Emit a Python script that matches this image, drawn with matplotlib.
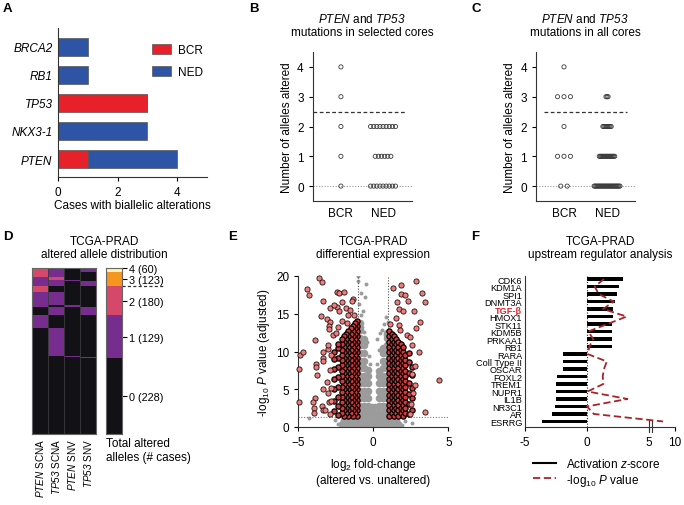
import numpy as np
import matplotlib
matplotlib.use("Agg")
import matplotlib.pyplot as plt
from matplotlib.colors import ListedColormap
from matplotlib.patches import Patch
from matplotlib.lines import Line2D
import matplotlib.transforms as mtrans

plt.rcParams["font.family"] = ["Liberation Sans", "DejaVu Sans"]
plt.rcParams["font.size"] = 8.5
plt.rcParams["mathtext.fontset"] = "custom"
plt.rcParams["mathtext.rm"] = "Liberation Sans"
plt.rcParams["mathtext.it"] = "Liberation Sans:italic"
plt.rcParams["mathtext.sf"] = "Liberation Sans:italic"   # gene names: italic digits too
plt.rcParams["mathtext.bf"] = "Liberation Sans:bold"
plt.rcParams["axes.linewidth"] = 0.8
plt.rcParams["axes.edgecolor"] = "#333333"
plt.rcParams["xtick.major.width"] = 0.8
plt.rcParams["ytick.major.width"] = 0.8
plt.rcParams["xtick.major.size"] = 3
plt.rcParams["ytick.major.size"] = 3

W, H = 684, 506

# ---------------- data ----------------
# A: biallelic alterations (bottom -> top)
A_GENES = ["PTEN", "NKX3-1", "TP53", "RB1", "BRCA2"]
A_BCR = [1, 0, 3, 0, 0]
A_NED = [3, 3, 0, 1, 1]

# B / C: number of alleles altered, (value, count) per group
B_BCR_VALS, B_BCR_N = [0, 1, 2, 3, 4], [1, 1, 1, 1, 1]
B_NED_VALS, B_NED_N = [0, 1, 2], [9, 6, 9]
C_BCR_VALS, C_BCR_N = [0, 1, 2, 3, 4], [2, 3, 1, 3, 1]
C_NED_VALS, C_NED_N = [0, 1, 2, 3], [26, 16, 9, 3]

# D: TCGA-PRAD altered alleles, row blocks (n rows, [PTEN SCNA, TP53 SCNA, PTEN SNV, TP53 SNV])
D_BLOCK_N = [13, 15, 7, 5, 15, 18, 37, 7, 26, 37, 85, 3, 4, 228]
D_BLOCK_VALS = [[2, 1, 0, 1], [2, 1, 0, 0], [1, 2, 0, 0], [1, 1, 1, 0], [1, 1, 0, 1],
                [2, 0, 0, 0], [1, 1, 0, 0], [1, 0, 1, 0], [0, 1, 0, 1],
                [1, 0, 0, 0], [0, 1, 0, 0], [0, 0, 1, 0], [0, 0, 0, 1], [0, 0, 0, 0]]
D_COLS = [r"$\mathsf{PTEN}$ SCNA", r"$\mathsf{TP53}$ SCNA", r"$\mathsf{PTEN}$ SNV", r"$\mathsf{TP53}$ SNV"]
D_TOTAL_LABELS = ["4 (60)", "3 (123)", "2 (180)", "1 (129)", "0 (228)"]

# E: volcano, gray (non-significant) cloud
E_GRAY_ARM_X = [-0.9, -0.62, -0.35, -0.12, 0.12, 0.35, 0.62, 0.9]
E_GRAY_ARM_Y = [
    [1.8, 2.8, 3.8, 4.8, 5.8, 6.8, 7.8, 8.8, 9.8, 10.8, 11.8, 12.8, 13.8],
    [1.8, 2.8, 3.8, 4.8, 5.8, 6.8, 7.8, 8.8, 9.8, 10.8, 11.6],
    [1.8, 2.8, 3.8, 4.8, 5.8, 6.8, 7.6],
    [1.8, 2.6],
    [1.8, 2.6],
    [1.8, 2.8, 3.8, 4.8, 5.8, 6.8, 7.4],
    [1.8, 2.8, 3.8, 4.8, 5.8, 6.8, 7.8, 8.8, 9.8, 10.5],
    [1.8, 2.8, 3.8, 4.8, 5.8, 6.8, 7.8, 8.8, 9.8, 10.8, 11.8, 12.5],
]
E_GRAY_BASE_X = [-2.1, -1.8, -1.45, -1.1, -0.75, -0.4, -0.05, 0.3, 0.65, 1.0, 1.35, 1.65,
                 -1.95, -1.6, -1.25, -0.9, -0.55, -0.2, 0.15, 0.5, 0.85, 1.2, 1.5]
E_GRAY_BASE_Y = [0.35, 0.3, 0.3, 0.3, 0.3, 0.3, 0.3, 0.3, 0.3, 0.3, 0.3, 0.35,
                 0.95, 0.95, 1.0, 1.0, 1.0, 1.0, 1.0, 1.0, 1.0, 0.95, 0.95]
E_GRAY_SPARSE = [(-1.02, 20.0), (-1.0, 19.3), (-0.5, 19.0), (-0.53, 17.2), (-0.95, 16.3),
                 (-0.67, 15.4), (-0.85, 14.8), (0.85, 14.6), (0.7, 13.6), (0.45, 12.4),
                 (0.25, 11.6), (0.55, 12.9), (-0.3, 9.4), (-0.22, 8.3), (0.22, 8.4),
                 (-2.35, 0.45), (-2.55, 0.9), (-4.3, 1.25), (2.55, 0.5), (1.9, 0.25),
                 (2.1, 0.8), (-0.75, 13.2), (0.95, 13.9), (-0.45, 11.2), (-0.6, 12.6),
                 (0.38, 10.2), (0.75, 12.2), (-0.85, 17.8)]
# E: significant genes (|log2FC| > 1), dense bands by column
E_RED_COL_X = [-1.07, -1.22, -1.37, -1.52, -1.67, -1.82, -1.97, -2.12, -2.35, -2.6,
               1.07, 1.22, 1.37, 1.52, 1.67, 1.82, 1.97, 2.12, 2.35, 2.6]
E_RED_COL_Y = [
    [1.5, 2.2, 2.9, 3.6, 4.3, 5.0, 5.7, 6.4, 7.1, 7.8, 8.5, 9.2, 9.9, 10.6, 11.3, 12.0, 12.7, 13.4, 14.1],
    [1.85, 2.55, 3.25, 3.95, 4.65, 5.35, 6.05, 6.75, 7.45, 8.15, 8.85, 9.55, 10.25, 10.95, 11.65, 12.35, 13.05, 13.75],
    [1.5, 2.2, 2.9, 3.6, 4.3, 5.0, 5.7, 6.4, 7.1, 7.8, 8.5, 9.2, 9.9, 10.6, 11.3, 12.0, 12.7, 13.4],
    [1.85, 2.55, 3.25, 3.95, 4.65, 5.35, 6.05, 6.75, 7.45, 8.15, 8.85, 9.55, 10.25, 10.95, 11.65, 12.35, 13.05],
    [1.5, 2.2, 2.9, 3.6, 4.3, 5.0, 5.7, 6.4, 7.1, 7.8, 8.5, 9.2, 9.9, 10.6, 11.3, 12.0, 12.7],
    [1.85, 2.55, 3.25, 3.95, 4.65, 5.35, 6.05, 6.75, 7.45, 8.15, 8.85, 9.55, 10.25, 10.95, 11.65, 12.35],
    [1.5, 2.2, 2.9, 3.6, 4.3, 5.0, 5.7, 6.4, 7.1, 7.8, 8.5, 9.2, 9.9, 10.6, 11.3, 12.0],
    [1.85, 2.55, 3.25, 3.95, 4.65, 5.35, 6.05, 6.75, 7.45, 8.15, 8.85, 9.55, 10.25, 10.95, 11.65],
    [1.6, 2.8, 4.0, 5.3, 6.6, 7.9, 9.1, 10.4, 11.0],
    [2.1, 3.5, 5.0, 6.3, 7.7, 9.0, 10.0],
    [1.5, 2.2, 2.9, 3.6, 4.3, 5.0, 5.7, 6.4, 7.1, 7.8, 8.5, 9.2, 9.9, 10.6, 11.3, 12.0, 12.7],
    [1.85, 2.55, 3.25, 3.95, 4.65, 5.35, 6.05, 6.75, 7.45, 8.15, 8.85, 9.55, 10.25, 10.95, 11.65, 12.35],
    [1.5, 2.2, 2.9, 3.6, 4.3, 5.0, 5.7, 6.4, 7.1, 7.8, 8.5, 9.2, 9.9, 10.6, 11.3, 12.0],
    [1.85, 2.55, 3.25, 3.95, 4.65, 5.35, 6.05, 6.75, 7.45, 8.15, 8.85, 9.55, 10.25, 10.95, 11.65],
    [1.5, 2.2, 2.9, 3.6, 4.3, 5.0, 5.7, 6.4, 7.1, 7.8, 8.5, 9.2, 9.9, 10.6, 11.3],
    [1.85, 2.55, 3.25, 3.95, 4.65, 5.35, 6.05, 6.75, 7.45, 8.15, 8.85, 9.55, 10.25, 10.95],
    [1.5, 2.2, 2.9, 3.6, 4.3, 5.0, 5.7, 6.4, 7.1, 7.8, 8.5, 9.2, 9.9, 10.6],
    [1.85, 2.55, 3.25, 3.95, 4.65, 5.35, 6.05, 6.75, 7.45, 8.15, 8.85, 9.55],
    [1.7, 3.0, 4.4, 5.8, 7.2, 8.6, 9.8],
    [2.3, 3.8, 5.2, 6.9, 8.0],
]
E_RED_SPARSE = [(-3.6, 19.7), (-3.4, 19.2), (-4.4, 18.3), (-4.26, 17.5), (-3.38, 16.7),
                (-2.44, 17.9), (-2.29, 17.7), (-1.93, 17.9), (-1.33, 16.9), (-1.44, 16.7),
                (-2.89, 15.7), (-3.51, 14.7), (-3.07, 14.3), (-3.89, 11.5), (-4.89, 9.5),
                (-4.71, 10.0), (-4.98, 7.7), (-4.98, 3.35), (-3.33, 9.9), (-3.38, 9.2),
                (-3.33, 8.8), (-3.82, 8.3), (-3.82, 7.9), (-3.73, 6.9), (-3.89, 3.9),
                (-4.04, 3.35), (-3.95, 2.5), (-3.95, 1.9), (-3.44, 2.8), (-3.33, 2.2),
                (-2.93, 3.3), (-2.4, 15.9), (-2.29, 15.3), (-1.71, 14.9), (-2.89, 13.9),
                (-2.96, 13.4), (-2.93, 13.0), (-3.0, 10.3), (-3.0, 10.8), (-2.6, 16.2),
                (-2.1, 16.5), (-1.85, 15.8), (-1.55, 15.5), (-1.3, 14.8), (-2.7, 12.2),
                (-2.8, 9.5), (-2.9, 7.5), (-3.1, 6.0), (-2.8, 5.2), (-3.0, 4.5),
                (-2.85, 3.5), (-3.2, 2.3), (-2.9, 1.7), (-3.35, 5.0), (-2.5, 12.5),
                (-2.35, 13.2), (-2.1, 14.0), (-1.75, 13.8),
                (1.29, 18.4), (1.85, 18.8), (2.85, 19.3), (3.22, 17.8), (3.45, 16.5),
                (1.85, 17.6), (2.11, 17.5), (2.33, 16.7), (1.56, 16.6), (1.73, 15.6),
                (2.0, 15.3), (2.73, 15.4), (3.11, 13.9), (2.85, 13.1), (1.11, 13.6),
                (1.73, 13.5), (1.78, 12.9), (2.27, 12.2), (2.44, 11.9), (3.07, 9.9),
                (4.4, 6.2), (3.45, 2.0), (2.78, 8.1), (2.67, 4.5), (2.6, 10.8),
                (2.55, 7.0), (2.8, 5.6), (2.5, 3.0), (2.45, 1.7), (1.5, 14.4)]

# F: upstream regulators
F_REG = ["CDK6", "KDM1A", "SPI1", "DNMT3A", "TGF-β", "HMOX1", "STK11", "KDM5B", "PRKAA1", "RB1",
         "RARA", "Coll Type II", "OSCAR", "FOXL2", "TREM1", "NUPR1", "IL1B", "NR3C1", "AR", "ESRRG"]
F_Z = [2.93, 2.61, 2.45, 2.22, 2.12, 2.12, 2.05, 2.0, 2.0, 2.0,
       -1.96, -1.96, -1.96, -2.45, -2.5, -2.53, -2.53, -2.58, -2.8, -3.6]
F_P = [1.37, 0.62, 0.95, 2.15, 1.3, 3.2, 1.65, 0.1, 0.5, 0.2,
       0.05, 1.6, 1.37, 1.27, 1.32, 0.05, 3.26, 0.0, 0.55, 7.7]

RED, BLUE = "#E8202A", "#2E55A5"
HEAT_COLORS = ["#121216", "#772D8D", "#D6486A", "#F6961E", "#FAF3B6"]
TITLE_BC = r"$\mathsf{PTEN}$ and $\mathsf{TP53}$"


def box(l, t, r, b):
    return [l / W, 1 - b / H, (r - l) / W, (b - t) / H]


def swarm(ax, x0, vals, counts, spacing, **kw):
    for v, n in zip(vals, counts):
        xs = x0 + (np.arange(n) - (n - 1) / 2) * spacing
        ax.scatter(xs, np.full(n, v), **kw)


fig = plt.figure(figsize=(W / 100, H / 100), dpi=100)

for letter, (px, py) in zip("ABCDEF", [(3, 3), (249, 3), (471, 3), (3, 231), (228, 231), (471, 231)]):
    fig.text(px / W, 1 - py / H, letter, fontsize=9.5, fontweight="bold", va="top", ha="left")

# ---------------- A ----------------
ax = fig.add_axes(box(58, 29.3, 207, 178))
y = np.arange(len(A_GENES))
ax.barh(y, A_BCR, height=0.62, color=RED, edgecolor="#555555", linewidth=0.5)
ax.barh(y, A_NED, left=A_BCR, height=0.62, color=BLUE, edgecolor="#555555", linewidth=0.5)
ax.set_yticks(y)
ax.set_yticklabels(A_GENES, fontstyle="italic")
ax.tick_params(axis="y", length=0, pad=4)
ax.set_xlim(0, 5)
ax.set_ylim(-0.64, 4.66)
ax.set_xticks([0, 2, 4])
ax.set_xlabel("Cases with biallelic alterations", labelpad=1)
for s in ["top", "right"]:
    ax.spines[s].set_visible(False)
ax.legend([Patch(facecolor=RED, edgecolor="#555555", lw=0.5), Patch(facecolor=BLUE, edgecolor="#555555", lw=0.5)],
          ["BCR", "NED"], loc="upper left", bbox_to_anchor=(0.56, 0.965), frameon=False,
          handlelength=1.6, handleheight=0.9, labelspacing=0.85, handletextpad=0.6)

# ---------------- B / C ----------------
def dot_panel(rect, bcr, ned, sp_bcr, sp_ned, xlim, dash):
    ax = fig.add_axes(rect)
    kw = dict(s=9, facecolors="none", edgecolors="#3a3a3a", linewidths=0.6, zorder=3)
    swarm(ax, 0, bcr[0], bcr[1], sp_bcr, **kw)
    swarm(ax, 1, ned[0], ned[1], sp_ned, **kw)
    ax.axhline(0, color="#9a9a9a", lw=0.8, ls=(0, (1, 1.5)), zorder=1)
    ax.plot(dash, [2.5, 2.5], color="#333333", lw=0.9, ls=(0, (3, 2)), zorder=2)
    ax.set_xlim(*xlim)
    ax.set_ylim(-0.5, 4.5)
    ax.set_yticks([0, 1, 2, 3, 4])
    ax.set_xticks([0, 1])
    ax.set_xticklabels(["BCR", "NED"])
    ax.tick_params(axis="x", length=0, pad=4)
    ax.set_ylabel("Number of alleles altered", labelpad=3)
    for s in ["top", "right"]:
        ax.spines[s].set_visible(False)
    return ax

dot_panel(box(312.7, 53, 411.7, 202), (B_BCR_VALS, B_BCR_N), (B_NED_VALS, B_NED_N),
          0.074, 0.074, (-0.67, 1.68), [-0.67, 1.52])
fig.text(362 / W, 1 - 13 / H, TITLE_BC + "\n" + "mutations in selected cores",
         ha="center", va="top", linespacing=1.15)
dot_panel(box(536, 53, 635, 202), (C_BCR_VALS, C_BCR_N), (C_NED_VALS, C_NED_N),
          0.15, 0.024, (-0.65, 1.65), [-0.47, 1.46])
fig.text(585 / W, 1 - 13 / H, TITLE_BC + "\n" + "mutations in all cores",
         ha="center", va="top", linespacing=1.15)

# ---------------- D ----------------
cmap = ListedColormap(HEAT_COLORS)
heat = np.repeat(np.array(D_BLOCK_VALS), D_BLOCK_N, axis=0)
totals = heat.sum(axis=1)
axd = fig.add_axes(box(31.7, 268.7, 95.7, 434.7))
axd.imshow(heat, aspect="auto", cmap=cmap, vmin=-0.5, vmax=4.5, interpolation="nearest")
for xb in [0.5, 1.5, 2.5]:
    axd.axvline(xb, color="#3c3c3c", lw=0.6)
axd.set_yticks([])
axd.set_xticks(range(4))
axd.set_xticklabels(D_COLS, rotation=90, va="top", ha="center", fontsize=7.2)
axd.tick_params(axis="x", length=0, pad=3)
for s in axd.spines.values():
    s.set_color("#666666")
fig.text(104 / W, 1 - 236 / H, "TCGA-PRAD\naltered allele distribution", ha="center", va="top", linespacing=1.15)

axt = fig.add_axes(box(106.3, 268.7, 122.3, 434.7))
axt.imshow(totals[:, None], aspect="auto", cmap=cmap, vmin=-0.5, vmax=4.5, interpolation="nearest")
axt.set_xticks([])
counts = [int((totals == k).sum()) for k in [4, 3, 2, 1, 0]]
edges = np.concatenate([[0], np.cumsum(counts)])
centers = (edges[:-1] + edges[1:]) / 2 - 0.5
centers[0] = edges[0] + 0.5
axt.yaxis.tick_right()
axt.set_yticks(centers)
axt.set_yticklabels(D_TOTAL_LABELS, fontsize=7.8)
axt.tick_params(axis="y", length=3.5, pad=1.5)
for s in axt.spines.values():
    s.set_color("#666666")
trans = mtrans.blended_transform_factory(axt.transAxes, axt.transData)
axt.plot([1.0, 3.65], [edges[2] - 0.5] * 2, color="#333333", lw=0.9, ls=(0, (2.5, 1.8)),
         transform=trans, clip_on=False)
fig.text(106 / W, 1 - 438 / H, "Total altered\nalleles (# cases)", ha="left", va="top", linespacing=1.2)

# ---------------- E ----------------
axe = fig.add_axes(box(298.3, 277, 448.3, 428))
gx = [x for x, ys in zip(E_GRAY_ARM_X, E_GRAY_ARM_Y) for _ in ys]
gy = [v for ys in E_GRAY_ARM_Y for v in ys]
axe.scatter(gx, gy, s=30, c="#9b9b9b", linewidths=0, zorder=1)
axe.scatter(E_GRAY_BASE_X, E_GRAY_BASE_Y, s=30, c="#9b9b9b", linewidths=0, zorder=1)
axe.scatter([p[0] for p in E_GRAY_SPARSE], [p[1] for p in E_GRAY_SPARSE], s=8, c="#9b9b9b",
            linewidths=0, zorder=1)
for xv in [-1, 1]:
    axe.plot([xv, xv], [1.3, 20], color="#555555", lw=0.8, ls=(0, (1, 1.5)), zorder=2)
axe.plot([-5, -1], [1.3, 1.3], color="#777777", lw=0.8, ls=(0, (1, 1.5)), zorder=2)
axe.plot([1, 5], [1.3, 1.3], color="#777777", lw=0.8, ls=(0, (1, 1.5)), zorder=2)
rx = [x for x, ys in zip(E_RED_COL_X, E_RED_COL_Y) for _ in ys]
ry = [v for ys in E_RED_COL_Y for v in ys]
axe.scatter(rx, ry, s=14, c="#D23C3C", edgecolors="#0e0505", linewidths=0.95, zorder=3)
axe.scatter([p[0] for p in E_RED_SPARSE], [p[1] for p in E_RED_SPARSE], s=14, c="#F07C7C",
            edgecolors="#1c1010", linewidths=0.6, zorder=4, clip_on=False)
axe.set_xlim(-5, 5)
axe.set_ylim(0, 20)
axe.set_xticks([-5, 0, 5])
axe.set_yticks([0, 5, 10, 15, 20])
axe.set_xlabel(r"log$_2$ fold-change" + "\n" + "(altered vs. unaltered)", labelpad=6, linespacing=1.2)
axe.set_ylabel(r"-log$_{10}$ $P$ value (adjusted)", labelpad=3)
for s in ["top", "right"]:
    axe.spines[s].set_visible(False)
fig.text(373 / W, 1 - 236 / H, "TCGA-PRAD\ndifferential expression", ha="center", va="top", linespacing=1.15)

# ---------------- F ----------------
def fwd(x):
    x = np.asarray(x, float)
    return np.where(x <= 5, x, 5 + (x - 5) * 0.42)


def inv(x):
    x = np.asarray(x, float)
    return np.where(x <= 5, x, 5 + (x - 5) / 0.42)


axf = fig.add_axes(box(525, 276.7, 675, 427.7))
axf.set_xscale("function", functions=(fwd, inv))
yf = np.arange(len(F_REG))[::-1]
axf.barh(yf, F_Z, height=0.5, color="black", zorder=2)
axf.plot(F_P, yf, color="#A8232A", lw=1.3, ls=(0, (4, 2)), zorder=3)
axf.axvline(0, color="#222222", lw=0.8, ls=(0, (1, 1.5)), zorder=1)
axf.set_xlim(-5, 10)
axf.set_ylim(-0.7, 19.45)
axf.set_xticks([-5, 0, 5, 10])
axf.set_xticklabels(["-5", "0", "5", "10"])
axf.set_yticks(yf)
axf.set_yticklabels(F_REG, fontsize=6.6)
axf.tick_params(axis="y", length=0, pad=2)
for lab in axf.get_yticklabels():
    if lab.get_text() == "TGF-β":
        lab.set_color("#E8202A")
        lab.set_fontweight("bold")
for s in ["top", "right"]:
    axf.spines[s].set_visible(False)
tb = mtrans.blended_transform_factory(axf.transData, axf.transAxes)
for xb in [5.06, 5.55]:
    axf.plot([xb, xb], [-0.035, 0.035], color="#333333", lw=0.8, transform=tb, clip_on=False)
axf.legend([Line2D([], [], color="black", lw=1.5), Line2D([], [], color="#A8232A", lw=1.3, ls=(0, (4, 2)))],
           [r"Activation $z$-score", r"-log$_{10}$ $P$ value"], loc="upper left",
           bbox_to_anchor=(0.02, -0.17), frameon=False, handlelength=2.0, labelspacing=0.12,
           handletextpad=0.8, borderaxespad=0)
fig.text(600 / W, 1 - 236 / H, "TCGA-PRAD\nupstream regulator analysis", ha="center", va="top", linespacing=1.15)

fig.savefig("out.png", dpi=100)
